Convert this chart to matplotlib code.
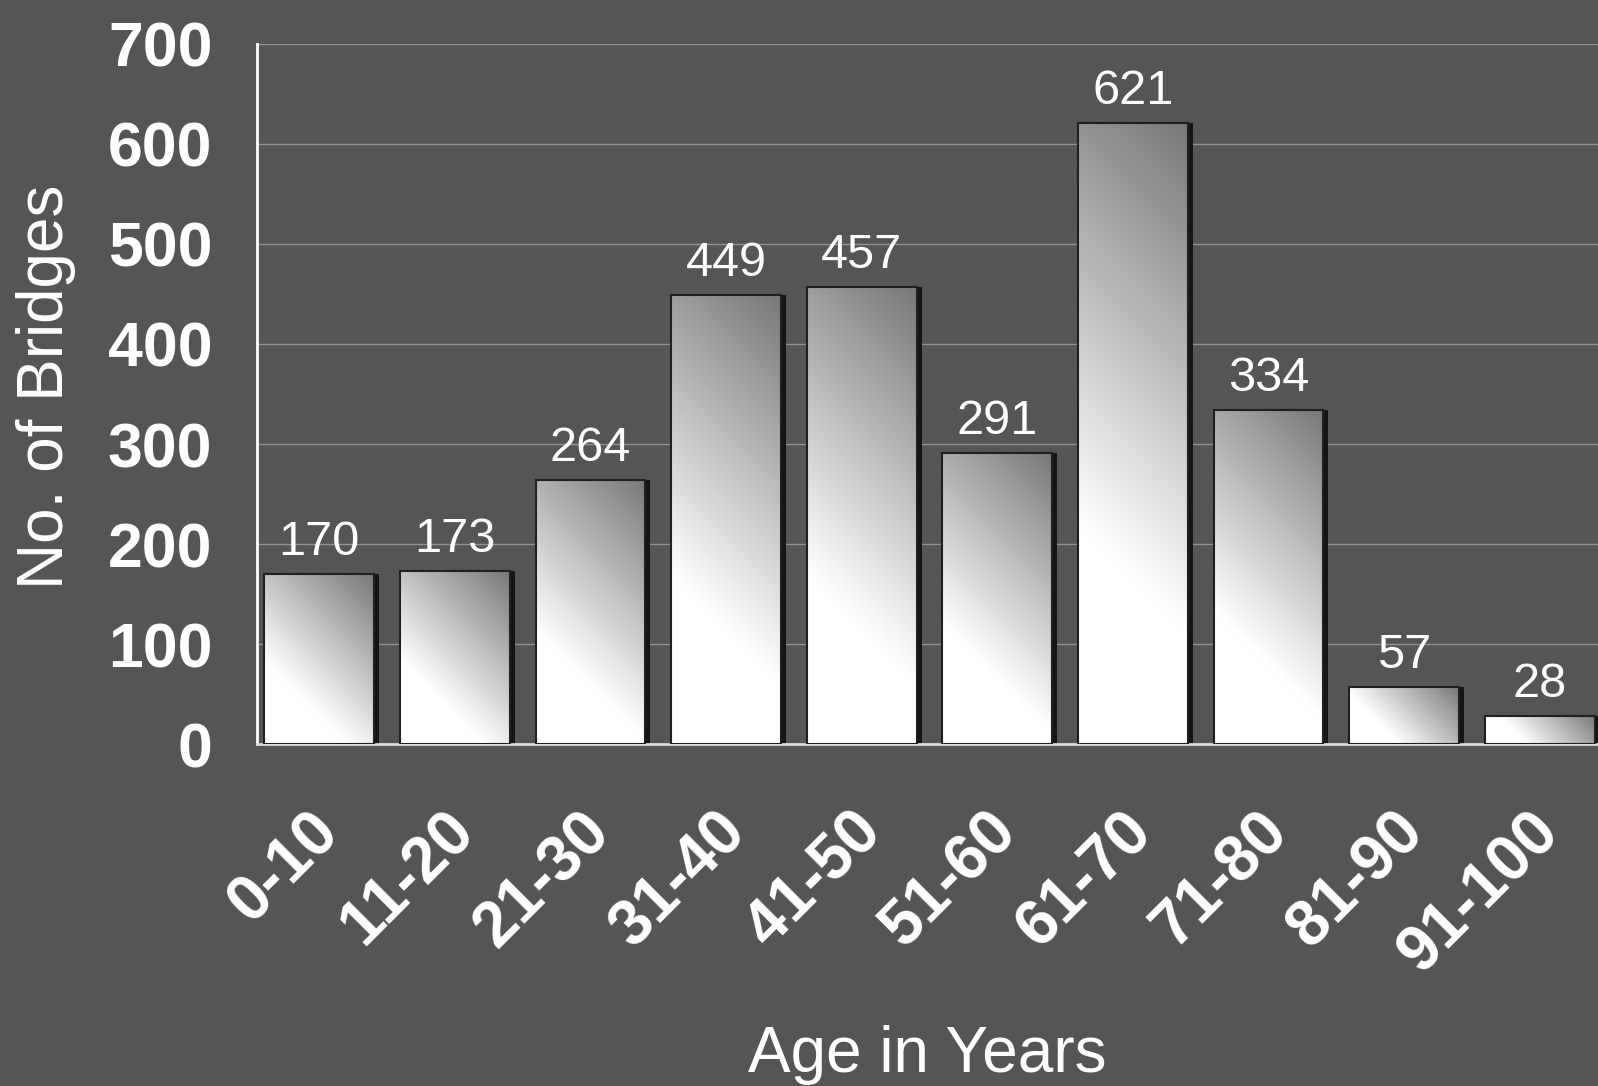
import numpy as np
import matplotlib
matplotlib.use("Agg")
import matplotlib.pyplot as plt
import matplotlib.transforms as mtransforms
from matplotlib.colors import LinearSegmentedColormap

plt.rcParams['font.family'] = ['Liberation Sans', 'DejaVu Sans']

age_groups = ["0-10", "11-20", "21-30", "31-40", "41-50",
              "51-60", "61-70", "71-80", "81-90", "91-100"]
bridge_counts = [170, 173, 264, 449, 457, 291, 621, 334, 57, 28]

bg = '#555555'
fig_w, fig_h = 1598, 1086
fig = plt.figure(figsize=(fig_w / 100, fig_h / 100), dpi=100, facecolor=bg)
ax_pos = [0.1608, 0.3149, 0.8392, 0.6446]
ax = fig.add_axes(ax_pos)
ax.set_facecolor(bg)

x = np.arange(len(age_groups))
w = 0.81
xlim = (-0.46, 9.43)
ylim = (0, 700)

# pixels per data unit, used for the diagonal gradient and the shadow offset
px_x = ax_pos[2] * fig_w / (xlim[1] - xlim[0])
px_y = ax_pos[3] * fig_h / (ylim[1] - ylim[0])

# dark drop shadow on the right of each bar
ax.bar(x + 5 / px_x, bridge_counts, w, color='#151515', zorder=2)

# white (lower left) -> grey (upper right) fill
cmap = LinearSegmentedColormap.from_list(
    'barfill', [(0, '#ffffff'), (0.3, '#ffffff'), (1, '#787878')])
g = np.linspace(0, 1, 200)
U, V = np.meshgrid(g, g)
for xi, val in zip(x, bridge_counts):
    wp = w * px_x
    hp = val * px_y
    t = (U * wp + V * hp) / (wp + hp)
    ax.imshow(t, cmap=cmap, vmin=0, vmax=1, origin='lower',
              extent=(xi - w / 2, xi + w / 2, 0, val), aspect='auto',
              interpolation='bilinear', zorder=3)

ax.bar(x, bridge_counts, w, color='none', edgecolor='#202020',
       linewidth=1.5, zorder=4)

for xi, val in zip(x, bridge_counts):
    ax.annotate(str(val), (xi, val), xytext=(0, 14), textcoords='offset points',
                ha='center', va='baseline', color='white', fontsize=35, zorder=5)

ax.set_xlim(*xlim)
ax.set_ylim(*ylim)

ax.set_yticks(range(0, 701, 100))
ax.yaxis.grid(True, color='#939393', linewidth=1.0)
ax.set_axisbelow(True)
ax.tick_params(axis='y', length=0, pad=32, labelsize=45, labelcolor='white')
for lab in ax.get_yticklabels():
    lab.set_fontweight('bold')

ax.set_xticks(x, age_groups, rotation=45, ha='right', va='center',
              rotation_mode='anchor', fontsize=46, fontweight='bold', color='white')
ax.tick_params(axis='x', length=0, pad=56)
shift = mtransforms.ScaledTranslation(10 / 100, 0, fig.dpi_scale_trans)
for lab in ax.get_xticklabels():
    lab.set_transform(lab.get_transform() + shift)

for side in ['top', 'right']:
    ax.spines[side].set_visible(False)
ax.spines['left'].set_color('white')
ax.spines['left'].set_linewidth(2)
ax.spines['bottom'].set_color('#d8d8d8')
ax.spines['bottom'].set_linewidth(2)

fig.text(0.029, 0.644, 'No. of Bridges', rotation=90, ha='center', va='center',
         fontsize=46, color='white')
fig.text(0.58, 1 - 1072 / fig_h, 'Age in Years', ha='center', va='baseline',
         fontsize=46, color='white')

fig.savefig('out.png', dpi=100, facecolor=bg)
